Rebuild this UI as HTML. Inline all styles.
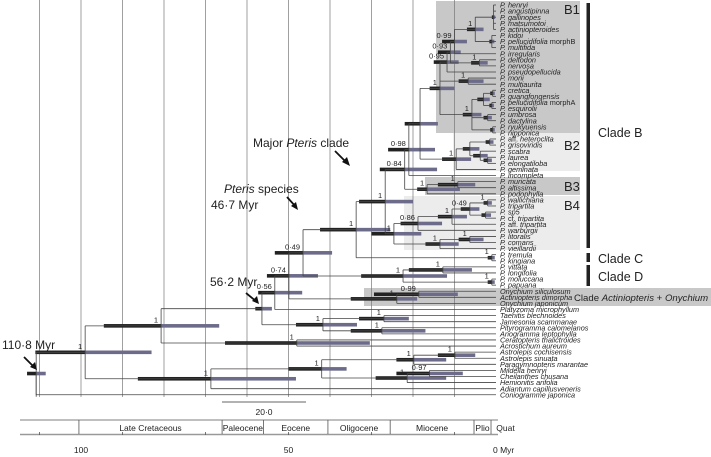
<!DOCTYPE html>
<html><head><meta charset="utf-8">
<style>
html,body{margin:0;padding:0;background:#fff;}
svg{display:block;font-family:"Liberation Sans",sans-serif;}
.tip{font-size:7.3px;font-style:italic;fill:#222;}
.tip .n{font-style:normal;}
.pp{font-size:7.5px;fill:#222;}
</style></head>
<body>
<svg id="chart" width="711" height="457" viewBox="0 0 711 457" xmlns="http://www.w3.org/2000/svg">
<g id="shade">
  <rect x="436" y="1" width="144" height="132" fill="#c8c8c8"/>
  <rect x="453" y="133" width="127" height="38" fill="#ececec"/>
  <rect x="425" y="177" width="155" height="18" fill="#c8c8c8"/>
  <rect x="404" y="196" width="176" height="54" fill="#ececec"/>
  <rect x="364" y="288" width="347" height="18" fill="#c8c8c8"/>
</g>
<g id="grid"></g>
<g id="bars"></g>
<g id="tree"></g>
<g id="labels"></g>
<g id="post"></g>

<g font-size="13" fill="#222">
  <text x="564" y="14">B1</text>
  <text x="564" y="150">B2</text>
  <text x="564" y="191">B3</text>
  <text x="564" y="210">B4</text>
  <rect x="586.5" y="3" width="3.5" height="245" fill="#222"/>
  <rect x="586.5" y="253" width="3.5" height="9" fill="#222"/>
  <rect x="586.5" y="265" width="3.5" height="21" fill="#222"/>
  <text x="598" y="137" font-size="12.5">Clade B</text>
  <text x="598" y="263" font-size="12.5">Clade C</text>
  <text x="598" y="281" font-size="12.5">Clade D</text>
  <text x="574" y="301" font-size="9.6">Clade <tspan font-style="italic">Actiniopteris</tspan> + <tspan font-style="italic">Onychium</tspan></text>
</g>

<g font-size="12" fill="#222">
  <text x="2" y="349">110·8 Myr</text>
  <path d="M24 357 L35 368" stroke="#111" stroke-width="1.8"/>
  <path d="M37 370 L30 367 L35 362 Z" fill="#111"/>
  <text x="210" y="286">56·2 Myr</text>
  <path d="M246 293 L257 302" stroke="#111" stroke-width="1.8"/>
  <path d="M259 304 L252 301 L257 296 Z" fill="#111"/>
  <text x="224" y="193"><tspan font-style="italic">Pteris</tspan> species</text>
  <text x="211" y="209">46·7 Myr</text>
  <path d="M287 197 L296 207" stroke="#111" stroke-width="1.8"/>
  <path d="M298 210 L291 206 L296 202 Z" fill="#111"/>
  <text x="253" y="147">Major <tspan font-style="italic">Pteris</tspan> clade</text>
  <path d="M335 151 L347 163" stroke="#111" stroke-width="1.8"/>
  <path d="M350 166 L342 162 L347 157 Z" fill="#111"/>
</g>

<g>
  <line x1="222" y1="402" x2="306" y2="402" stroke="#333" stroke-width="0.8"/>
  <text x="264" y="415" font-size="8.5" text-anchor="middle" fill="#222">20·0</text>
</g>

<g id="timescale">
  <line x1="20" y1="420" x2="498" y2="420" stroke="#555" stroke-width="0.8"/>
  <line x1="20" y1="434.5" x2="498" y2="434.5" stroke="#999" stroke-width="1.6"/>
</g>
<g id="axis" font-size="8.5" fill="#222"></g>
</svg>

<script>
// ---- data ----
const tipNames = ["P. henryi","P. angustipinna","P. gallinopes","P. matsumotoi","P. actiniopteroides","P. kidoi","P. pellucidifolia |morphB","P. multifida","P. irregularis","P. deltodon","P. nervosa","P. pseudopellucida","P. morii","P. multiaurita","P. cretica","P. guangfongensis","P. pellucidifolia |morphA","P. esquirolii","P. umbrosa","P. dactylina","P. ryukyuensis","P. nipponica","P. |aff.| heteroclita","P. grisoviridis","P. scabra","P. laurea","P. elongatiloba","P. geminata","P. incompleta","P. muricata","P. altissima","P. podophylla","P. wallichiana","P. tripartita","P. sp5","P. |cf.| tripartita","P. |aff.| tripartita","P. warburgii","P. litoralis","P. comans","P. vieillardii","P. tremula","P. kingiana","P. vittata","P. longifolia","P. moluccana","P. papuana","Onychium siliculosum","Actiniopteris dimorpha","Onychium japonicum","Platyzoma microphyllum","Taenitis blechnoides","Jamesonia scammanae","Pityrogramma calomelanos","Anogramma leptophylla","Ceratopteris thalictroides","Acrostichum aureum","Astrolepis cochisensis","Astrolepis sinuata","Paragymnopteris marantae","Mildella henryi","Cheilanthes chusana","Hemionitis arifolia","Adiantum capillusveneris","Coniogramme japonica"];
const timeTicks = [100, 50, 0];
const epochNames = ["Late Cretaceous","Paleocene","Eocene","Oligocene","Miocene","Plio","Quat"];
const epochStarts = [100.5, 66, 56, 40.5, 25.5, 5.3, 1.2];

// node: N(age, posterior label, HPD upper age, HPD lower age, children...) ; numbers are tip indices
function N(age, lab, hi, lo, ...kids){ return {age, lab, hi, lo, kids}; }
const cladeB1 = N(13.5,"1",16,10,
  N(11.8,"0·95",15,9,
    N(11,"0·93",14,8.5,
      N(10,"0·99",13,7,
        N(5,"1",7,3, N(0.6,"",1,0.2,0,1,2,3,4), N(1,"",1.6,0.4,5,6,7)),
        8),
      N(4,"1",6,2,9,10)),
    11),
  N(6.7,"1",9,3,12,13),
  N(5.8,"1",8,3.5, N(3,"",4.5,1.5, N(0.8,"",1.4,0.3,14,15), N(1,"",1.6,0.5,16,17)), N(2,"",3,1,18,19), N(0.8,"",1.4,0.3,20,21)));
const cladeB2 = N(9.6,"1",13,6, N(6.3,"",8,4, N(1.5,"",2.5,0.6,22,23), N(3.8,"",5.5,2,24, N(2,"",3,1,25,26))), 27);
const cladeB3 = N(16.6,"1",19,8.7, N(9.2,"1",14,5,29,30), 31);
const cladeB4 = N(24.6,"1",30,18,
  N(18.8,"0·86",23,13, N(10.6,"1",14,7, N(6.3,"0·49",8.5,4, N(2,"1",3,1,32,33), N(2.5,"",3.5,1.2,34,35)), 36), 37),
  N(13.5,"1",17,9, N(6.3,"1",9,3,38,39), 40));
const cladeB = N(26.7,"1",33,20,
  N(22,"0·84",28,14.2,
    N(21,"0·98",26,14.7, N(18.3,"",22,14, cladeB1, cladeB2), 28),
    cladeB3),
  cladeB4);
const major = N(33.7,"1",42.4,25.5, cladeB, N(1,"1",2,0.3,41,42));
const cladeD = N(22.4,"1",32.5,11.8, N(12.8,"1",21,5.8,43,44), N(1,"1",2,0.3,45,46));
const pteris = N(46.5,"0·49",53.3,39.5, major, cladeD);
const onych = N(23.9,"1",35,19, N(18.6,"0·99",29.4,9.2,47,48), 49);
const n074 = N(49.9,"0·74",55.2,42.9, pteris, onych);
const n056 = N(53.3,"0·56",57.3,46.7, n074, 50);
const taen = N(41.7,"1",48.2,33.5, N(27,"1",33,21,51,52), N(27.5,"1",35,17,53,54));
const n562 = N(56.4,"",58,54, n056, taen);
const cerat = N(48,"1",65.3,30.4,55,56);
const nodeB = N(80.7,"1",94.5,66.7, n562, cerat);
const cheil = N(42,"1",50,36, N(19.8,"1",24,12, N(9.9,"1",14,5,57,58), 59), N(21.4,"1",29,12, N(16,"0·97",24,8,60,61), 62));
const nodeC = N(68.7,"1",86.3,48.2, cheil, 63);
const nodeA = N(99,"1",111,83, nodeB, nodeC);
const root = N(110.8,"",113,108.5, nodeA, 64);

// ---- scales ----
const X = age => 496 - age*4.15;
const Y = i => 5 + i*6.09;
const NS = "http://www.w3.org/2000/svg";
function el(tag, attrs, parent){ const e=document.createElementNS(NS,tag); for(const k in attrs) e.setAttribute(k,attrs[k]); parent.appendChild(e); return e; }

const grid=document.getElementById('grid');
for(let a=10;a<=110;a+=10){
  const l=el('line',{x1:X(a),x2:X(a),y1:0,y2:397,stroke:'#777','stroke-width':0.7},grid);
  
  
}

const tree=document.getElementById('tree'), bars=document.getElementById('bars'), post=document.getElementById('post'), labels=document.getElementById('labels');
function layout(n){
  if(typeof n==='number') return Y(n);
  const ys=n.kids.map(k=>layout(k));
  n.y=(ys[0]+ys[ys.length-1])/2;
  const nx=X(n.age);
  const v=el('line',{x1:nx,x2:nx,y1:ys[0],y2:ys[ys.length-1],stroke:'#444','stroke-width':0.8},tree);
  
  
  n.kids.forEach((k,i)=>{
    const kx= typeof k==='number'?X(0):X(k.age);
    const h=el('line',{x1:nx,x2:kx,y1:ys[i],y2:ys[i],stroke:'#444','stroke-width':0.8},tree);
    
    
  });
  const b1=el('rect',{x:X(n.hi),y:n.y-1.8,width:Math.max(0,X(n.age)-X(n.hi)),height:3.6,fill:'#222'},bars);
  
  
  const b2=el('rect',{x:X(n.age),y:n.y-1.8,width:Math.max(0,X(n.lo)-X(n.age)),height:3.6,fill:'#6c6c8a'},bars);
  
  
  if(n.lab){
    const t=el('text',{x:X(n.age)-3,y:n.y-3.5,'text-anchor':'end',class:'pp'},post);
    t.textContent=n.lab;
    
    
  }
  return n.y;
}
layout(root);
const rs=el('line',{x1:X(root.age),x2:X(root.age),y1:root.y,y2:Y(64)+2,stroke:'#444','stroke-width':0.8},tree);



tipNames.forEach((nm,i)=>{
  const t=el('text',{x:500,y:Y(i)+2.6,class:'tip'},labels);
  
  
  nm.split('|').forEach((part,j)=>{
    const s=el('tspan',{},t);
    if(j%2===1) s.setAttribute('class','n');
    s.textContent=part;
  });
});

const ts=document.getElementById('timescale');
epochStarts.forEach((a,i)=>{
  const x0=X(a), x1= i<epochStarts.length-1 ? X(epochStarts[i+1]) : 520;
  const d=el('line',{x1:x0,x2:x0,y1:420,y2:434,stroke:'#555','stroke-width':0.8},ts);
  
  
  const t=el('text',{x:(x0+x1)/2,y:431,'text-anchor':'middle','font-size':8.5,fill:'#222'},ts);
  t.textContent=epochNames[i];
  
  
});
for(let a=10;a<=110;a+=20){
  const k=el('line',{x1:X(a),x2:X(a),y1:432,y2:435,stroke:'#555','stroke-width':0.8},ts);
  
  
}
const ax=document.getElementById('axis');
timeTicks.forEach(a=>{
  const t=el('text',{x: a===0?493:X(a), y:453,'text-anchor': a===0?'start':'middle'},ax);
  t.textContent = a===0 ? '0 Myr' : String(a);
  
  
});
</script>
</body></html>
